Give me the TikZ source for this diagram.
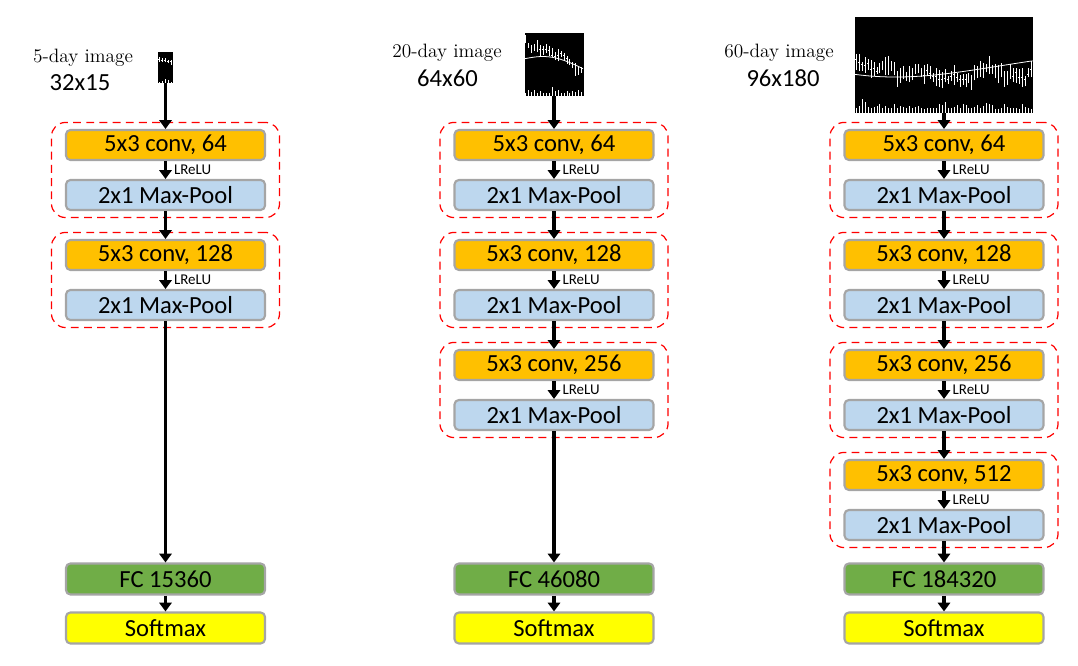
\documentclass[tikz,border=0pt]{standalone}
\usepackage{fontspec}
\newfontfamily\boxfont{Carlito}
\usetikzlibrary{arrows.meta,fit,positioning}
\definecolor{convcol}{HTML}{FFC000}
\definecolor{poolcol}{HTML}{BDD7EE}
\definecolor{fccol}{HTML}{70AD47}
\definecolor{softcol}{HTML}{FFFF00}
\definecolor{rimcol}{HTML}{A5A5A5}
\tikzset{
  layer/.style={draw=rimcol, line width=1.2pt, rounded corners=2.5pt,
    minimum width=3.98cm, minimum height=0.6cm, inner sep=0pt,
    font=\boxfont\fontsize{14}{16}\selectfont},
  conv/.style={layer, fill=convcol},
  pool/.style={layer, fill=poolcol},
  fc/.style={layer, fill=fccol, minimum height=0.62cm},
  soft/.style={layer, fill=softcol, minimum height=0.62cm},
  block/.style={draw=red, dash pattern=on 4.5pt off 3pt, line width=0.7pt,
    rounded corners=8pt, inner xsep=0.27cm, inner ysep=0.13cm},
  flow/.style={line width=1.8pt, -{Triangle[length=5pt,width=7pt]}},
  act/.style={font=\boxfont\fontsize{8.5}{10}\selectfont, anchor=west,
    inner sep=0pt, xshift=4pt},
  chartimg/.style={fill=black, draw=none, inner sep=0pt},
  daylbl/.style={font=\fontsize{11}{13}\selectfont, inner sep=0pt},
  sizelbl/.style={font=\boxfont\fontsize{14}{16}\selectfont, inner sep=0pt},
  tick/.style={white, line width=0.45pt},
}
% price bars and volume bars of a chart: width, height, bars, seed, start, drift
\newcommand\pricebars[6]{%
  \pgfmathsetseed{#4}%
  \xdef\lastp{#5}%
  \foreach \i in {1,...,#3}{
    \pgfmathsetmacro\px{(\i-0.5)*#1/#3}
    \pgfmathsetmacro\np{max(0.35,min(0.88,\lastp+#6+0.06*rand))}
    \pgfmathsetmacro\ph{min(0.98,\np+0.03+0.08*rnd)}
    \pgfmathsetmacro\pl{\np-0.03-0.08*rnd}
    \pgfmathsetmacro\vh{0.05+0.18*rnd*rnd*rnd}
    \draw[tick] (\px,\pl*#2) -- (\px,\ph*#2);
    \draw[tick] (\px,\np*#2) -- ++(-0.3*#1/#3,0);
    \draw[tick] (\px,0) -- (\px,\vh*#2);
    \xdef\lastp{\np}
  }}

\begin{document}
\begin{tikzpicture}
    \useasboundingbox (0,0) rectangle (21.56,-13.32);

    % input images
    \node[chartimg, minimum width=0.3cm, minimum height=0.62cm] (img-a) at (3.31,-1.35) {};
    \begin{scope}[shift={(img-a.south west)}]
      \clip (0,0) rectangle (0.3,0.62);
      \pricebars{0.3}{0.62}{5}{11}{0.75}{-0.03}
    \end{scope}
    \node[daylbl] (lbl-a) at (1.66,-1.16) {5-day image};
    \node[sizelbl] (size-a) at (1.6,-1.66) {32x15};

    \node[chartimg, minimum width=1.18cm, minimum height=1.26cm] (img-b) at (11.08,-1.29) {};
    \begin{scope}[shift={(img-b.south west)}]
      \clip (0,0) rectangle (1.18,1.26);
      \pricebars{1.18}{1.26}{20}{5}{0.88}{-0.025}
      \draw[tick] (0,0.75) .. controls (0.35,0.82) and (0.6,0.85) .. (1.18,0.55);
    \end{scope}
    \node[daylbl] (lbl-b) at (8.94,-1.06) {20-day image};
    \node[sizelbl] (size-b) at (8.95,-1.56) {64x60};

    \node[chartimg, minimum width=3.56cm, minimum height=1.92cm] (img-c) at (18.88,-1.30) {};
    \begin{scope}[shift={(img-c.south west)}]
      \clip (0,0) rectangle (3.56,1.92);
      \pricebars{3.56}{1.92}{60}{23}{0.62}{0}
      \draw[tick] (0,0.78) .. controls (1.2,0.62) and (2.2,0.85) .. (3.56,1.05);
    \end{scope}
    \node[daylbl] (lbl-c) at (15.58,-1.06) {60-day image};
    \node[sizelbl] (size-c) at (15.66,-1.56) {96x180};

    % layers
    \foreach \col/\cx/\ng/\fcn in {a/3.31/2/15360, b/11.08/3/46080, c/18.88/4/184320} {
      \foreach \k in {1,...,\ng} {
        \pgfmathtruncatemacro\ch{32*2^\k}
        \node[conv] (conv-\col\k) at (\cx,-2.9-2.2*\k+2.2) {5x3 conv, \ch};
        \node[pool] (pool-\col\k) at (\cx,-3.9-2.2*\k+2.2) {2x1 Max-Pool};
        \node[block, fit=(conv-\col\k)(pool-\col\k)] (grp-\col\k) {};
        \draw[flow] (conv-\col\k) -- node[act] (act-\col\k) {LReLU} (pool-\col\k);
        \ifnum\k>1
          \pgfmathtruncatemacro\prev{\k-1}
          \draw[flow] (pool-\col\prev) -- (conv-\col\k);
        \fi
      }
      \node[fc] (fc-\col) at (\cx,-11.58) {FC \fcn};
      \node[soft] (soft-\col) at (\cx,-12.56) {Softmax};
      \draw[flow] (img-\col) -- (conv-\col1);
      \draw[flow] (pool-\col\ng) -- (fc-\col);
      \draw[flow] (fc-\col) -- (soft-\col);
    }
\end{tikzpicture}
\end{document}
